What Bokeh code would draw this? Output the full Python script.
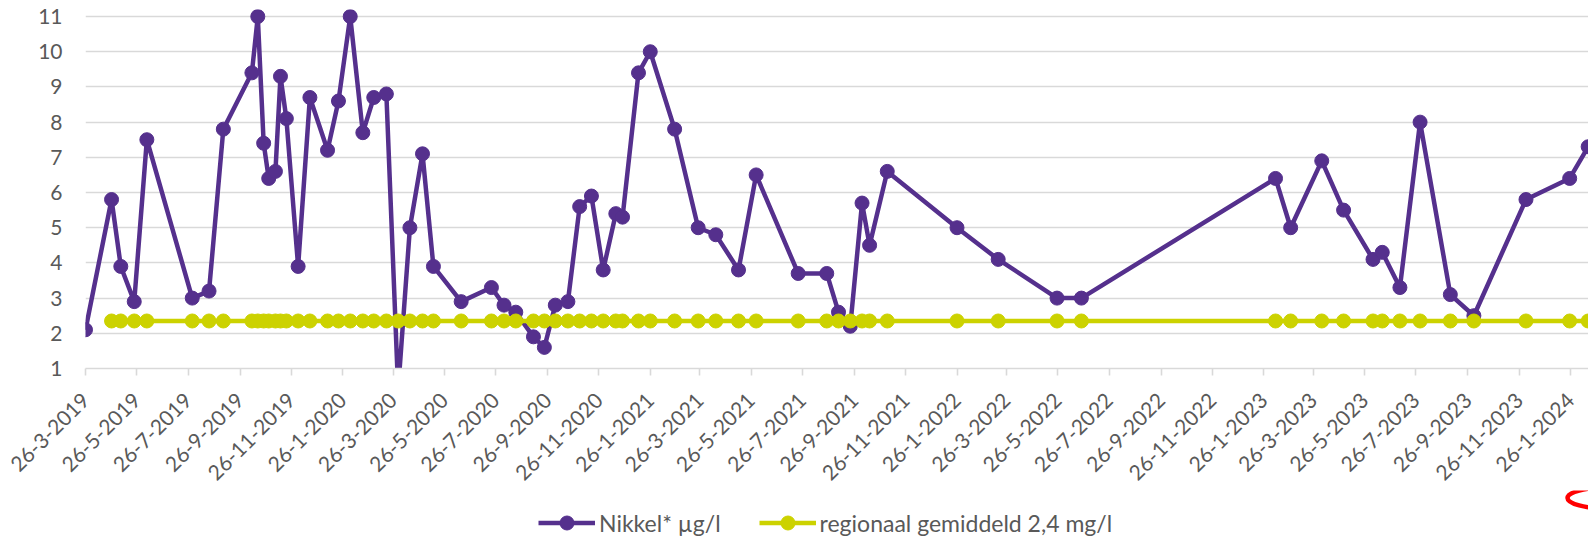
import math
import numpy as np
import pandas as pd
from bokeh.plotting import figure
from bokeh.layouts import column
from bokeh.models import Range1d, FixedTicker, Legend, LegendItem
from bokeh.embed import file_html
from bokeh.resources import INLINE

# ---------------- data ----------------
dates = [
    "2019-03-26", "2019-04-26", "2019-05-07", "2019-05-23", "2019-06-07",
    "2019-07-31", "2019-08-20", "2019-09-06", "2019-10-10", "2019-10-17",
    "2019-10-24", "2019-10-30", "2019-11-07", "2019-11-13", "2019-11-20",
    "2019-12-04", "2019-12-18", "2020-01-08", "2020-01-21", "2020-02-04",
    "2020-02-19", "2020-03-03", "2020-03-18", "2020-04-01", "2020-04-15",
    "2020-04-30", "2020-05-13", "2020-06-15", "2020-07-21", "2020-08-05",
    "2020-08-19", "2020-09-09", "2020-09-22", "2020-10-05", "2020-10-20",
    "2020-11-03", "2020-11-17", "2020-12-01", "2020-12-16", "2020-12-24",
    "2021-01-12", "2021-01-26", "2021-02-24", "2021-03-24", "2021-04-14",
    "2021-05-11", "2021-06-01", "2021-07-21", "2021-08-24", "2021-09-07",
    "2021-09-21", "2021-10-05", "2021-10-14", "2021-11-04", "2022-01-26",
    "2022-03-16", "2022-05-25", "2022-06-23", "2023-02-09", "2023-02-27",
    "2023-04-05", "2023-05-01", "2023-06-05", "2023-06-16", "2023-07-07",
    "2023-07-31", "2023-09-05", "2023-10-03", "2023-12-04", "2024-01-25",
    "2024-02-16",
]
nikkel = [
    2.1, 5.8, 3.9, 2.9, 7.5,
    3.0, 3.2, 7.8, 9.4, 11.0,
    7.4, 6.4, 6.6, 9.3, 8.1,
    3.9, 8.7, 7.2, 8.6, 11.0,
    7.7, 8.7, 8.8, 0.4, 5.0,
    7.1, 3.9, 2.9, 3.3, 2.8,
    2.6, 1.9, 1.6, 2.8, 2.9,
    5.6, 5.9, 3.8, 5.4, 5.3,
    9.4, 10.0, 7.8, 5.0, 4.8,
    3.8, 6.5, 3.7, 3.7, 2.6,
    2.2, 5.7, 4.5, 6.6, 5.0,
    4.1, 3.0, 3.0, 6.4, 5.0,
    6.9, 5.5, 4.1, 4.3, 3.3,
    8.0, 3.1, 2.5, 5.8, 6.4,
    7.3,
]
regionaal = [
    None, 2.35, 2.35, 2.35, 2.35,
    2.35, 2.35, 2.35, 2.35, 2.35,
    2.35, 2.35, 2.35, 2.35, 2.35,
    2.35, 2.35, 2.35, 2.35, 2.35,
    2.35, 2.35, 2.35, 2.35, 2.35,
    2.35, 2.35, 2.35, 2.35, 2.35,
    2.35, 2.35, 2.35, 2.35, 2.35,
    2.35, 2.35, 2.35, 2.35, 2.35,
    2.35, 2.35, 2.35, 2.35, 2.35,
    2.35, 2.35, 2.35, 2.35, 2.35,
    2.35, 2.35, 2.35, 2.35, 2.35,
    2.35, 2.35, 2.35, 2.35, 2.35,
    2.35, 2.35, 2.35, 2.35, 2.35,
    2.35, 2.35, 2.35, 2.35, 2.35,
    2.35,
]
tick_labels = [
    "26-3-2019", "26-5-2019", "26-7-2019", "26-9-2019", "26-11-2019",
    "26-1-2020", "26-3-2020", "26-5-2020", "26-7-2020", "26-9-2020", "26-11-2020",
    "26-1-2021", "26-3-2021", "26-5-2021", "26-7-2021", "26-9-2021", "26-11-2021",
    "26-1-2022", "26-3-2022", "26-5-2022", "26-7-2022", "26-9-2022", "26-11-2022",
    "26-1-2023", "26-3-2023", "26-5-2023", "26-7-2023", "26-9-2023", "26-11-2023",
    "26-1-2024",
]
y_ticks = [1, 2, 3, 4, 5, 6, 7, 8, 9, 10, 11]
series_names = ["Nikkel* \u00b5g/l", "regionaal gemiddeld 2,4 mg/l"]

# ---------------- style ----------------
PURPLE = "#55308D"
YELLOW = "#CCD200"
GRID = "#D9D9D9"
TEXT = "#595959"
FONT = "Lato"
FS_AXIS = "21px"
FS_LEG = "23px"
W = 1588
H_CHART = 490
H_LEG = 48
LEFT = 85

x_dt = pd.to_datetime(dates)
n_vals = np.array(nikkel, dtype=float)
r_vals = np.array([np.nan if v is None else v for v in regionaal], dtype=float)

tick_dt = pd.to_datetime(tick_labels, format="%d-%m-%Y")
tick_ms = [float(t.value // 10**6) for t in tick_dt]

x_start = tick_ms[0]
ms_per_day = 86400000.0
x_end = x_start + 1788.4 * ms_per_day

p = figure(
    width=W, height=H_CHART,
    x_axis_type="datetime",
    x_range=Range1d(x_start, x_end),
    y_range=Range1d(1, 11.2),
    output_backend="svg",
    toolbar_location=None,
    min_border_left=LEFT, min_border_right=0,
    min_border_top=9, min_border_bottom=H_CHART - 368,
)
p.outline_line_color = None
p.background_fill_color = "white"
p.border_fill_color = "white"

# grid
p.xgrid.visible = False
p.ygrid.ticker = FixedTicker(ticks=y_ticks)
p.ygrid.grid_line_color = GRID
p.ygrid.grid_line_width = 1.6

# y axis
p.yaxis.ticker = FixedTicker(ticks=y_ticks)
p.yaxis.axis_line_color = None
p.yaxis.major_tick_line_color = None
p.yaxis.major_tick_out = 0
p.yaxis.major_tick_in = 0
p.yaxis.minor_tick_line_color = None
p.yaxis.major_label_text_font = FONT
p.yaxis.major_label_text_font_size = FS_AXIS
p.yaxis.major_label_text_color = TEXT
p.yaxis.major_label_standoff = 23

# x axis
p.xaxis.ticker = FixedTicker(ticks=tick_ms)
p.xaxis.major_label_overrides = {t: lab for t, lab in zip(tick_ms, tick_labels)}
p.xaxis.axis_line_color = GRID
p.xaxis.axis_line_width = 1.6
p.xaxis.major_tick_line_color = GRID
p.xaxis.major_tick_line_width = 1.6
p.xaxis.major_tick_out = 7
p.xaxis.major_tick_in = 0
p.xaxis.minor_tick_line_color = None
p.xaxis.major_label_orientation = math.pi / 4
p.xaxis.major_label_text_font = FONT
p.xaxis.major_label_text_font_size = FS_AXIS
p.xaxis.major_label_text_color = TEXT
p.xaxis.major_label_standoff = 21

# series
p.line(x_dt, n_vals, line_color=PURPLE, line_width=4.5)
p.scatter(x_dt, n_vals, size=14, fill_color=PURPLE, line_color=PURPLE)
p.line(x_dt, r_vals, line_color=YELLOW, line_width=4.5)
p.scatter(x_dt, r_vals, size=14, fill_color=YELLOW, line_color=YELLOW)

# ---------------- legend strip ----------------
# (frame is aligned with the chart's frame, so x data units = page pixels)
q = figure(
    width=W, height=H_LEG,
    x_range=Range1d(LEFT, W), y_range=Range1d(0, H_LEG),
    output_backend="svg", toolbar_location=None,
    min_border_left=LEFT, min_border_right=0,
    min_border_top=0, min_border_bottom=0,
    outline_line_color=None,
)
q.axis.visible = False
q.grid.visible = False
q.border_fill_color = "white"

# legend proxies, placed outside the visible ranges
lp = q.line([-1000, -999], [-1000, -1000], line_color=PURPLE, line_width=4.5)
lps = q.scatter([-1000], [-1000], size=14, fill_color=PURPLE, line_color=PURPLE)
ly = q.line([-1000, -999], [-1000, -1000], line_color=YELLOW, line_width=4.5)
lys = q.scatter([-1000], [-1000], size=14, fill_color=YELLOW, line_color=YELLOW)

legend = Legend(
    items=[
        LegendItem(label=series_names[0], renderers=[lp, lps]),
        LegendItem(label=series_names[1], renderers=[ly, lys]),
    ],
    orientation="horizontal",
    location=(538 - LEFT, -2),
    border_line_color=None,
    background_fill_alpha=0,
    label_text_font=FONT,
    label_text_font_size=FS_LEG,
    label_text_color=TEXT,
    glyph_width=57,
    glyph_height=35,
    label_standoff=4,
    spacing=38,
    padding=0,
    margin=0,
)
q.add_layout(legend, "center")

# red hand-drawn mark (only its left end is inside the picture)
q.ellipse(x=[1607], y=[H_LEG - (497.5 - H_CHART)], width=[80], height=[21],
          fill_alpha=0, line_color="red", line_width=4.5)

layout = column(p, q, spacing=0)
open("out.html", "w").write(file_html(layout, INLINE))
